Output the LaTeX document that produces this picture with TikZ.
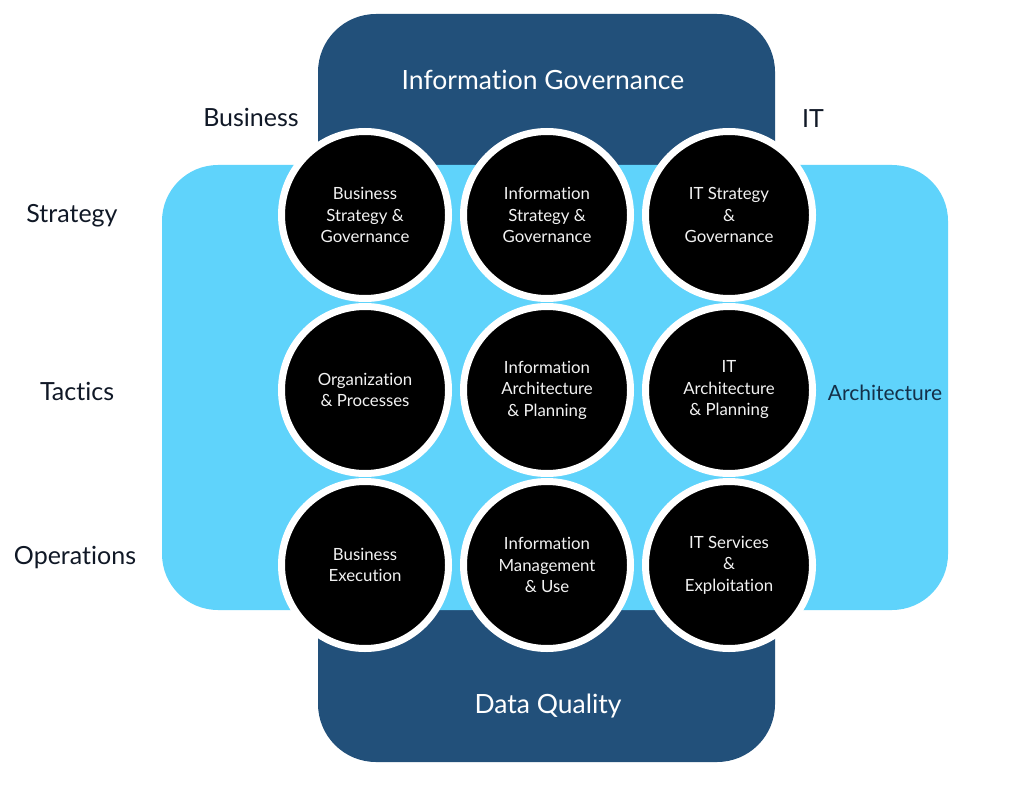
\documentclass[tikz,border=0pt]{standalone}
\usepackage{fontspec}
\setmainfont{Lato}[Ligatures={NoCommon,NoRare}]
\usetikzlibrary{positioning}
\definecolor{govblue}{HTML}{22507A}
\definecolor{archblue}{HTML}{5FD3FB}
\definecolor{labelink}{HTML}{101826}
\definecolor{circleink}{HTML}{F2F2F2}

\tikzset{
  band/.style={fill=govblue,rounded corners=58pt},
  layer/.style={fill=archblue,rounded corners=56pt},
  capability/.style={circle,fill=black,draw=white,line width=7pt,
    minimum size=167pt,inner sep=0pt,align=center,text=circleink,
    font=\fontsize{16.8}{21.5}\selectfont},
  sidelabel/.style={text=labelink,font=\fontsize{25}{28}\selectfont},
  bandlabel/.style={text=white,font=\fontsize{26.5}{30}\selectfont}
}

\begin{document}
\begin{tikzpicture}[x=1pt,y=-1pt]
    \path[use as bounding box,fill=white] (0,0) rectangle (1024,786);

    % Governance band behind, architecture layer across it.
    \fill[band] (318,14) rectangle (775,762);
    \fill[layer] (162,165) rectangle (948,610);

    \node[bandlabel] (govtitle) at (543,80) {Information Governance};
    \node[bandlabel] (dqtitle) at (548,706) {Data Quality};

    % Nine capabilities, rows = strategy/tactics/operations.
    \foreach \n/\x/\y/\t in {
      bsg/365/215/{Business\\Strategy \&\\Governance},
      isg/547/215/{Information\\Strategy \&\\Governance},
      itsg/729/215/{IT Strategy\\\&\\Governance},
      orgp/365/390/{Organization\\\& Processes},
      iap/547/390/{Information\\Architecture\\\& Planning},
      itap/729/390/{IT\\Architecture\\\& Planning},
      bex/365/565/{Business\\Execution},
      imu/547/565/{Information\\Management\\\& Use},
      itse/729/565/{IT Services\\\&\\Exploitation}}
      \node[capability] (\n) at (\x,\y) {\t};

    \node[sidelabel] (business) at (251,117) {Business};
    \node[sidelabel] (it) at (813,119) {IT};
    \node[sidelabel] (strategy) at (72,216) {Strategy};
    \node[sidelabel] (tactics) at (77,391) {Tactics};
    \node[sidelabel] (operations) at (75,558) {Operations};
    \node[sidelabel,text=govblue!60!black,font=\fontsize{21}{25}\selectfont]
      (architecture) at (885,393) {Architecture};
  \end{tikzpicture}
\end{document}
